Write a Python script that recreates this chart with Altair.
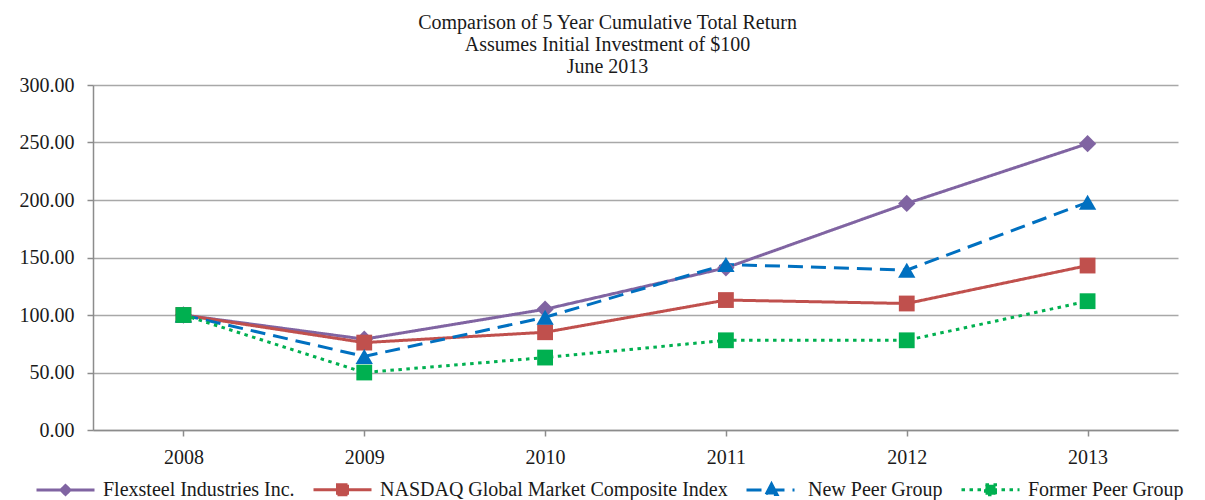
import altair as alt
import pandas as pd

years = ["2008", "2009", "2010", "2011", "2012", "2013"]
series = ["Flexsteel Industries Inc.", "NASDAQ Global Market Composite Index",
          "New Peer Group", "Former Peer Group"]
flexsteel = [100.0, 79.0, 105.0, 141.0, 197.0, 249.0]
nasdaq = [100.0, 76.0, 85.0, 113.0, 110.0, 143.0]
new_peer = [100.0, 64.0, 98.0, 144.0, 139.0, 198.0]
former_peer = [100.0, 50.0, 63.0, 78.0, 78.0, 112.0]
y_ticks = [0, 50, 100, 150, 200, 250, 300]
title_lines = ["Comparison of 5 Year Cumulative Total Return",
               "Assumes Initial Investment of $100", "June 2013"]

colors = ["#8064A2", "#C0504D", "#0070C0", "#00B050"]
shapes = ["diamond", "square", "triangle-up", "square"]
sizes = [300, 250, 300, 250]
dashes = [[1, 0], [1, 0], [15, 8], [3.5, 4.5]]
legend_dashes = [[1, 0], [1, 0], [17, 12], [3, 4]]
legend_paths = [
    "M-2.9,0L2.9,0M0,-0.45L0.45,0L0,0.45L-0.45,0Z",
    "M-2.9,0L2.9,0M-0.5,-0.5L0.5,-0.5L0.5,0.5L-0.5,0.5Z",
    "M-2.4,0L2.4,0M0.1,-0.6L0.65,0.45L-0.45,0.45Z",
    "M-2.9,0L2.9,0M-0.5,-0.5L0.5,-0.5L0.5,0.5L-0.5,0.5Z",
]

rows = []
for name, vals in zip(series, [flexsteel, nasdaq, new_peer, former_peer]):
    for yr, v in zip(years, vals):
        rows.append({"year": yr, "series": name, "value": v})
df = pd.DataFrame(rows)

def chain(values, default):
    expr = default
    for name, val in reversed(list(zip(series, values))):
        expr = f"datum.value === '{name}' ? {val} : {expr}"
    return expr

shape_expr = chain([f"'{p}'" for p in legend_paths], "'circle'")
dash_expr = chain([str(d) for d in legend_dashes], "[1,0]")
col_expr = chain([f"'{c}'" for c in colors], "'#000'")

FONT = "Liberation Serif"

legend = alt.Legend(
    title=None, orient="none", direction="horizontal", columns=4,
    legendX=-58, legendY=393,
    symbolSize=400, symbolStrokeWidth=3, symbolOffset=19,
    symbolType=alt.ExprRef(expr=shape_expr),
    symbolDash=alt.ExprRef(expr=dash_expr),
    symbolFillColor=alt.ExprRef(expr=col_expr),
    symbolStrokeColor=alt.ExprRef(expr=col_expr),
    symbolOpacity=1,
    labelFont=FONT, labelFontSize=20, labelColor="#1a1a1a",
    columnPadding=12, labelOffset=26, labelLimit=600,
)

x_enc = alt.X("year:O", title=None,
              scale=alt.Scale(type="point", padding=0.5, domain=years),
              axis=alt.Axis(labelAngle=0, labelFont=FONT, labelFontSize=20,
                            labelColor="#1a1a1a", domainColor="#8c8c8c",
                            domainWidth=1.5, tickColor="#8c8c8c", tickWidth=1.5,
                            tickSize=6, labelPadding=11, grid=False))
y_enc = alt.Y("value:Q", title=None,
              scale=alt.Scale(domain=[0, 300], nice=False),
              axis=alt.Axis(values=y_ticks, format=".2f", labelFont=FONT,
                            labelFontSize=20, labelColor="#1a1a1a",
                            gridColor="#a8a8a8", gridWidth=1.5,
                            domainColor="#8c8c8c", domainWidth=1.5,
                            tickColor="#8c8c8c", tickWidth=1.5, tickSize=6,
                            labelPadding=13, minExtent=80, maxExtent=80))
color_enc = alt.Color("series:N", scale=alt.Scale(domain=series, range=colors),
                      sort=series, legend=legend)

lines = alt.Chart(df).mark_line(strokeWidth=3).encode(
    x=x_enc, y=y_enc, color=color_enc,
    strokeDash=alt.StrokeDash("series:N", scale=alt.Scale(domain=series, range=dashes),
                              legend=None),
    detail="series:N",
)
point_layers = []
for name, shp, sz in zip(series, shapes, sizes):
    point_layers.append(
        alt.Chart(df).transform_filter(alt.datum.series == name)
        .mark_point(filled=True, opacity=1, size=sz, shape=shp)
        .encode(x=x_enc, y=y_enc, color=color_enc)
    )

chart = alt.layer(lines, *point_layers).properties(
    width=1085, height=345,
    padding={"left": 5, "top": 5, "right": 5, "bottom": 0},
    title=alt.TitleParams(text=title_lines, font=FONT, fontSize=20,
                          fontWeight="normal", color="#1a1a1a", lineHeight=22,
                          anchor="middle", offset=-2, dx=-28),
).configure_view(stroke=None)

chart.save("out.html", embed_options={"renderer": "svg", "actions": False})
